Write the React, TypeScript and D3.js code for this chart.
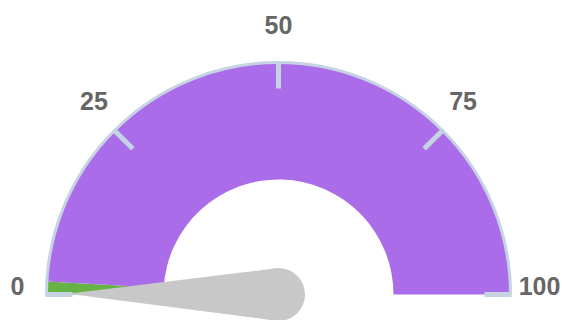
import React from "react";
import * as d3 from "d3";

const WIDTH = 562;
const HEIGHT = 320;

const tickValues = [0, 25, 50, 75, 100];
const tickLabels = ["0", "25", "50", "75", "100"];
const bandFrom = [0, 1.8];
const bandTo = [1.8, 100];
const bandColors = ["#66b343", "#ab6ce9"];
const needleValue = [0.1];

export default function App() {
  const cx = 278.5;
  const cy = 294.5;
  const outerR = 232;
  const innerR = 115;
  const angle = d3.scaleLinear().domain([0, 100]).range([-Math.PI / 2, Math.PI / 2]);

  const bandArc = d3.arc<any>();
  const borderArc = d3
    .arc<any>()
    .innerRadius(outerR)
    .outerRadius(outerR)
    .startAngle(angle(0))
    .endAngle(angle(100));

  const polar = (v: number, r: number): [number, number] => {
    const a = angle(v);
    return [cx + r * Math.sin(a), cy - r * Math.cos(a)];
  };

  const v = needleValue[0];
  const a = angle(v);
  const tipR = 210.5;
  const baseW = 26.5;
  const tip: [number, number] = [cx + tipR * Math.sin(a), cy - tipR * Math.cos(a)];
  const px = Math.cos(a);
  const py = Math.sin(a);
  const needlePts = [
    tip,
    [cx + baseW * px, cy + baseW * py],
    [cx - baseW * px, cy - baseW * py],
  ];

  return (
    <svg
      width={WIDTH}
      height={HEIGHT}
      style={{ position: "absolute", left: 0, top: 0 }}
      fontFamily="'Liberation Sans', Arial, sans-serif"
    >
      <rect width={WIDTH} height={HEIGHT} fill="#ffffff" />
      <g transform={`translate(${cx},${cy})`}>
        {bandFrom.map((f, i) => (
          <path
            key={i}
            d={
              bandArc({
                innerRadius: innerR,
                outerRadius: outerR,
                startAngle: angle(f),
                endAngle: angle(bandTo[i]),
              }) as string
            }
            fill={bandColors[i]}
          />
        ))}
        <path d={borderArc(null as any) as string} fill="none" stroke="#c5d3e3" strokeWidth={3} />
      </g>
      {tickValues.map((t, i) => {
        const [x1, y1] = polar(t, outerR + 1);
        const [x2, y2] = polar(t, outerR - 26);
        return (
          <line key={i} x1={x1} y1={y1} x2={x2} y2={y2} stroke="#c5d3e3" strokeWidth={5} />
        );
      })}
      <polygon points={needlePts.map((p) => p.join(",")).join(" ")} fill="#c8c8c8" />
      <circle cx={cx} cy={cy} r={baseW} fill="#c8c8c8" />
      {tickValues.map((t, i) => {
        const aa = angle(t);
        const x = cx + 261 * Math.sin(aa);
        const y = cy - 9 - 261 * Math.cos(aa);
        return (
          <text
            key={i}
            x={x}
            y={y}
            textAnchor="middle"
            dominantBaseline="central"
            fontSize={25}
            fontWeight="bold"
            fill="#666666"
          >
            {tickLabels[i]}
          </text>
        );
      })}
    </svg>
  );
}
